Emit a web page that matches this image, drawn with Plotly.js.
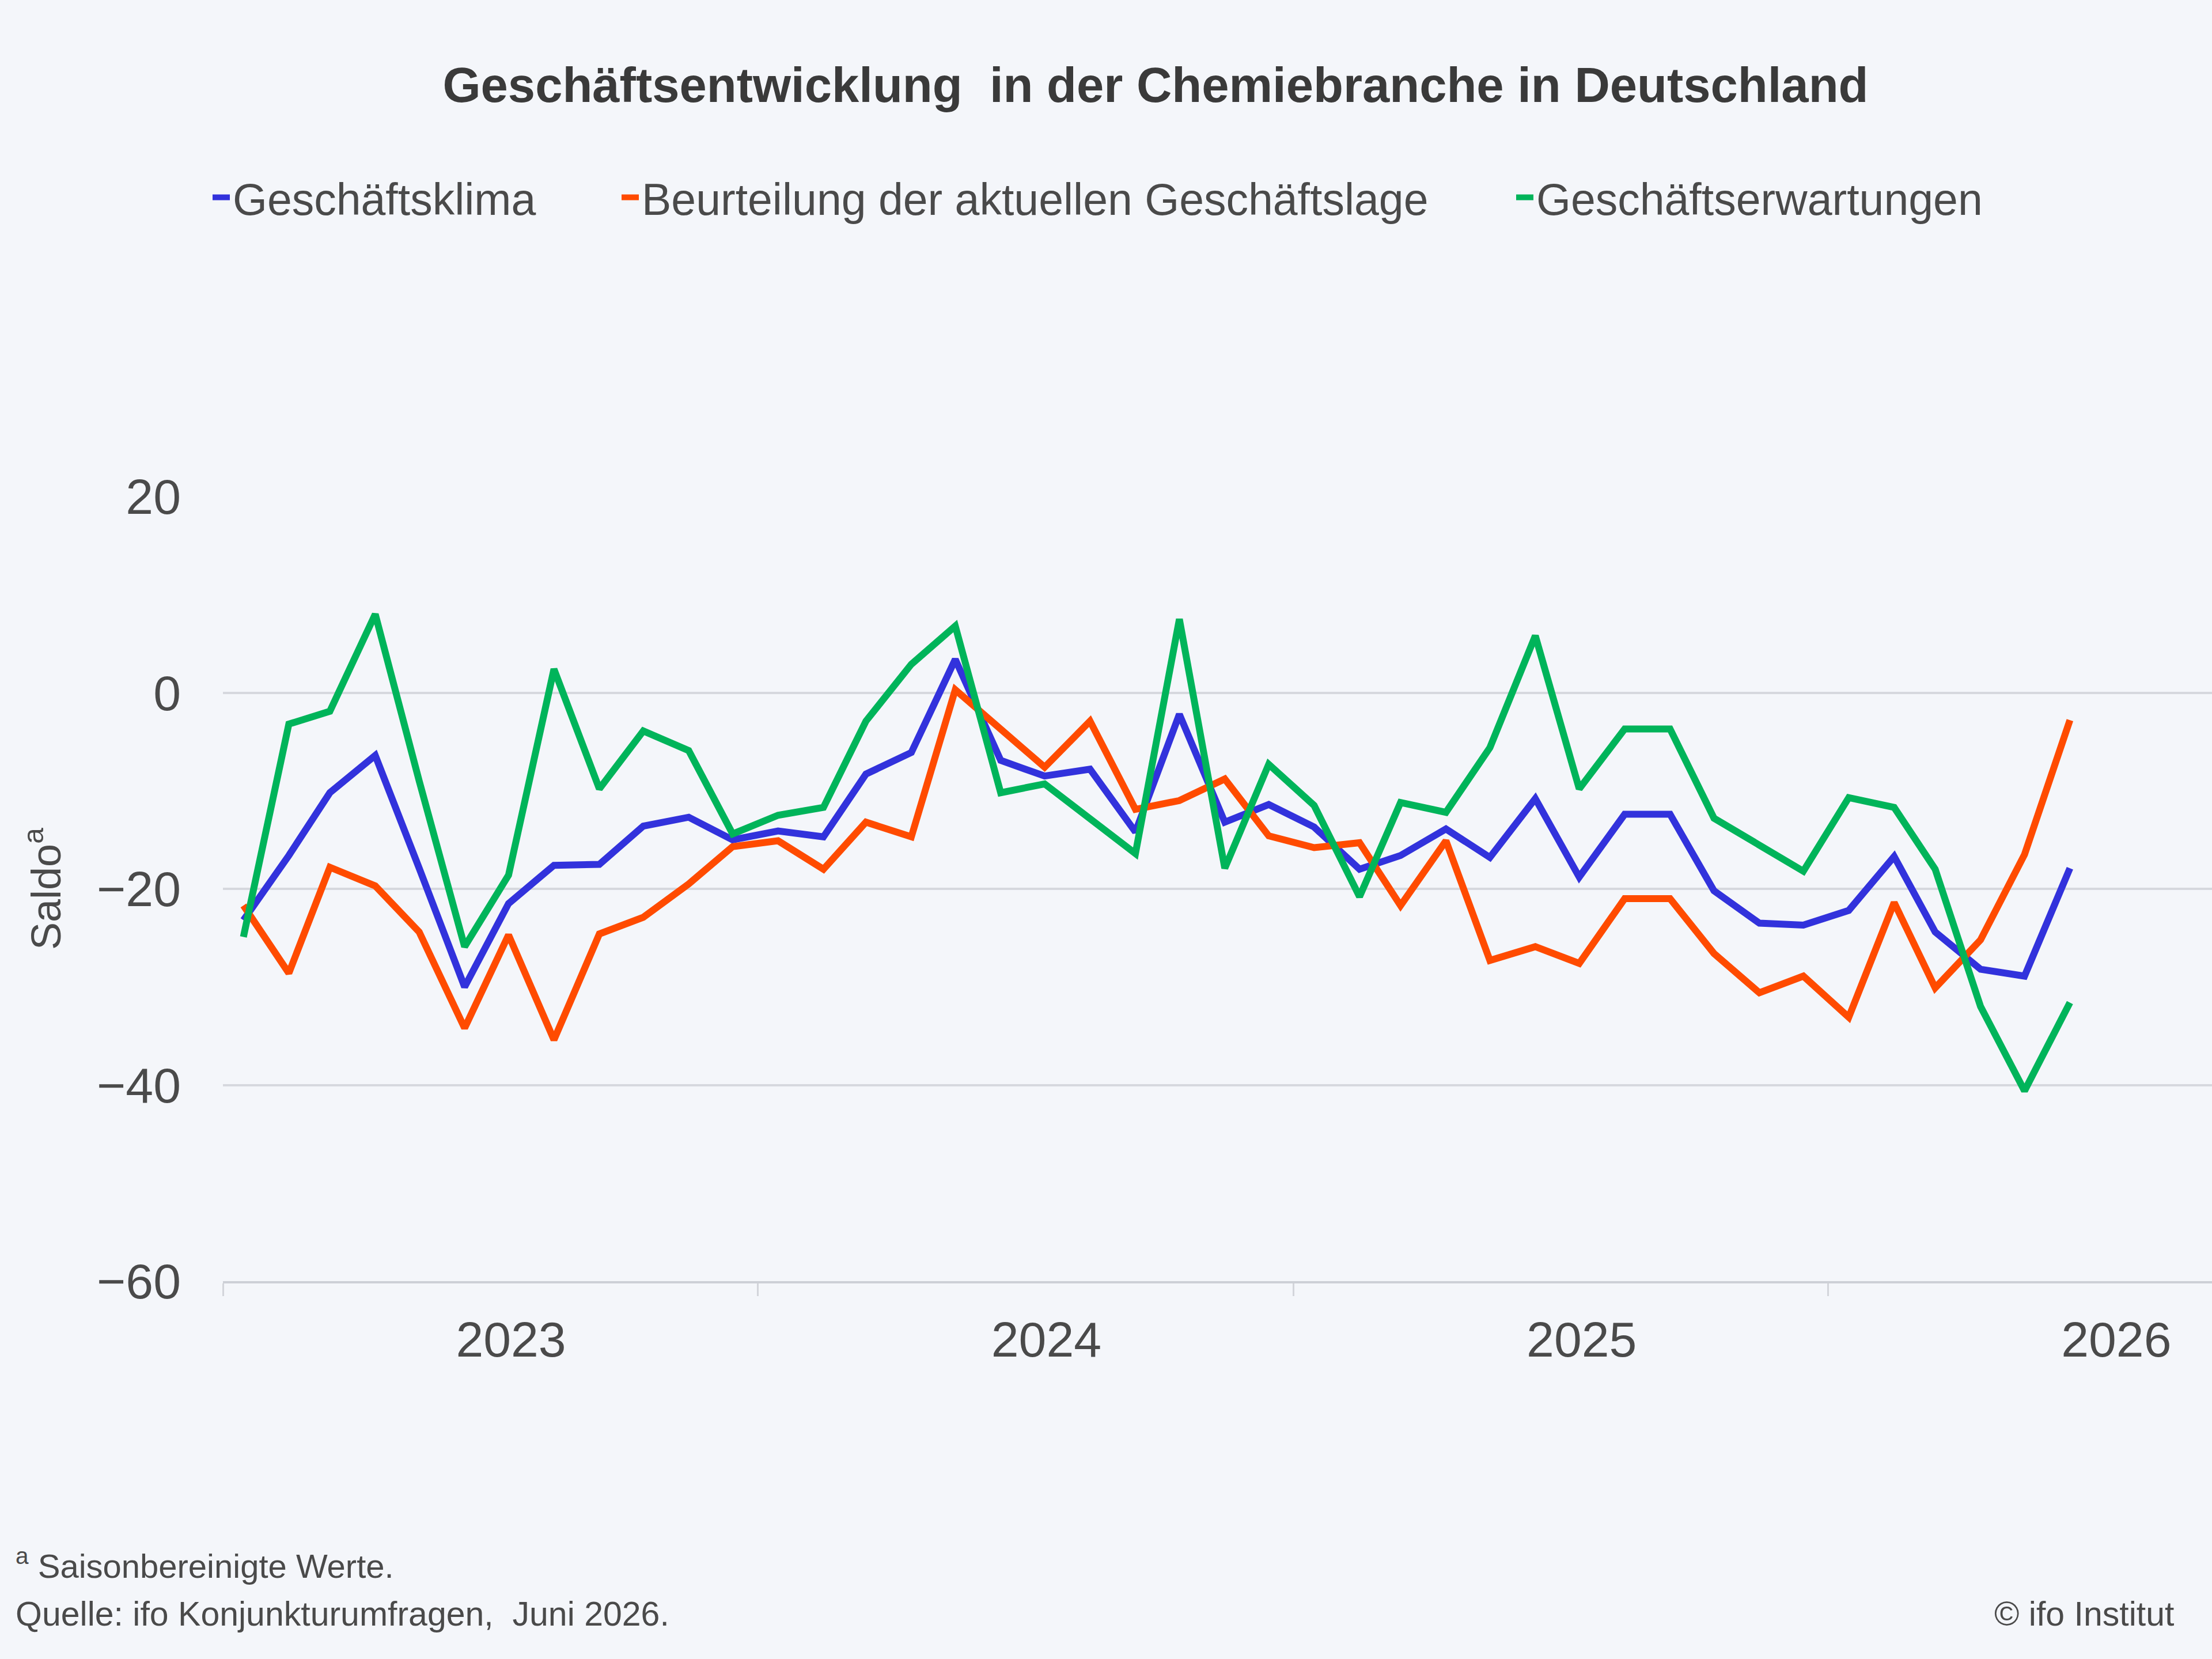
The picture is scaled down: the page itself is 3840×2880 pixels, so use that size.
<!DOCTYPE html>
<html>
<head>
<meta charset="utf-8">
<script src="https://cdn.plot.ly/plotly-3.0.1.min.js"></script>
<style>html,body{margin:0;padding:0;background:#f4f6fa;}</style>
</head>
<body>
<div id="chart" style="width:3840px;height:2880px;"></div>
<script>
// Months (data points are plotted mid-month)
const months = ['2023-01','2023-02','2023-03','2023-04','2023-05','2023-06','2023-07','2023-08','2023-09','2023-10','2023-11','2023-12',
                '2024-01','2024-02','2024-03','2024-04','2024-05','2024-06','2024-07','2024-08','2024-09','2024-10','2024-11','2024-12',
                '2025-01','2025-02','2025-03','2025-04','2025-05','2025-06','2025-07','2025-08','2025-09','2025-10','2025-11','2025-12',
                '2026-01','2026-02','2026-03','2026-04','2026-05','2026-06'];

// Geschäftsklima
const klima = [-23.2, -16.6, -10.2, -6.4, -17.9, -30.0, -21.5, -17.6, -17.5, -13.6, -12.7, -15.0,
               -14.1, -14.7, -8.3, -6.1, 3.4, -6.9, -8.5, -7.8, -14.2, -2.2, -13.2, -11.4,
               -13.7, -18.0, -16.6, -13.9, -16.8, -10.8, -18.8, -12.4, -12.4, -20.2, -23.5, -23.7,
               -22.2, -16.7, -24.4, -28.2, -28.9, -17.9];

// Beurteilung der aktuellen Geschäftslage
const lage = [-21.7, -28.6, -17.8, -19.7, -24.4, -34.2, -24.7, -35.4, -24.6, -22.9, -19.5, -15.7,
              -15.1, -18.0, -13.2, -14.7, 0.3, -3.6, -7.6, -2.9, -11.9, -11.0, -8.8, -14.6,
              -15.8, -15.3, -21.7, -15.1, -27.3, -25.9, -27.6, -21.0, -21.0, -26.6, -30.6, -28.9,
              -33.1, -21.4, -30.1, -25.2, -16.5, -2.8];

// Geschäftserwartungen
const erwartungen = [-24.9, -3.2, -1.9, 8.0, -9.0, -25.9, -18.6, 2.4, -9.8, -3.9, -5.9, -14.4,
                     -12.5, -11.7, -2.9, 2.9, 6.8, -10.2, -9.3, -12.9, -16.4, 7.5, -17.9, -7.3,
                     -11.5, -20.8, -11.2, -12.2, -5.6, 5.8, -9.8, -3.7, -3.7, -12.8, -15.6, -18.2,
                     -10.7, -11.7, -18.0, -32.0, -40.6, -31.6];

const seriesNames = ['Geschäftsklima', 'Beurteilung der aktuellen Geschäftslage', 'Geschäftserwartungen'];
const yTickVals = [20, 0, -20, -40, -60];

const W = 3840, H = 2880;
const plotL = 387, plotR = 3840, plotT = 862, plotB = 2224;
const px2paperX = x => (x - plotL) / (plotR - plotL);
const px2paperY = y => (plotB - y) / (plotB - plotT);

const xDates = months.map(m => m + '-15');
const FONT = 'Liberation Sans, Arial, sans-serif';
const colors = ['#3232dc', '#ff4b00', '#00b45a'];
const allSeries = [klima, lage, erwartungen];
const legendIds = ['legend', 'legend2', 'legend3'];

const traces = allSeries.map((ys, i) => ({
  type: 'scatter',
  mode: 'lines',
  x: xDates,
  y: ys,
  name: seriesNames[i],
  legend: legendIds[i],
  line: {color: colors[i], width: 12},
  hoverinfo: 'skip'
}));

const legendStarts = [364, 1074, 2627];
const legendCommon = {
  orientation: 'h',
  xref: 'container', yref: 'container',
  y: 1 - 343 / H, yanchor: 'middle', xanchor: 'left',
  font: {family: FONT, size: 77, color: '#4a4a4a'},
  bgcolor: 'rgba(0,0,0,0)', borderwidth: 0
};

const layout = {
  width: W, height: H, autosize: false,
  paper_bgcolor: '#f4f6fa',
  plot_bgcolor: '#f4f6fa',
  margin: {l: plotL, r: W - plotR, t: plotT, b: H - plotB, pad: 0},
  font: {family: FONT, color: '#4a4a4a'},
  title: {
    text: '<b>Geschäftsentwicklung  in der Chemiebranche in Deutschland</b>',
    xref: 'container', yref: 'container',
    x: 2006 / W, xanchor: 'center',
    y: 1 - 147 / H, yanchor: 'middle',
    font: {family: FONT, size: 85, color: '#3a3a3a'}
  },
  legend: Object.assign({}, legendCommon, {x: legendStarts[0] / W}),
  legend2: Object.assign({}, legendCommon, {x: legendStarts[1] / W}),
  legend3: Object.assign({}, legendCommon, {x: legendStarts[2] / W}),
  xaxis: {
    type: 'date',
    range: ['2023-01-01', '2026-09-20'],
    tick0: '2023-01-01', dtick: 'M12',
    tickformat: '%Y',
    ticklabelmode: 'period',
    ticklabelshift: 36,
    ticks: 'outside', ticklen: 22, tickwidth: 3, tickcolor: '#d3d5db',
    showline: true, linecolor: '#cdd0d6', linewidth: 4,
    showgrid: false, zeroline: false,
    tickfont: {family: FONT, size: 86, color: '#4a4a4a'},
    ticklabelstandoff: 2,
    fixedrange: true
  },
  yaxis: {
    range: [-60, 20],
    tickmode: 'array', tickvals: yTickVals,
    showgrid: true, gridcolor: '#d6d8de', gridwidth: 4,
    zeroline: false, showline: false, ticks: '',
    tickfont: {family: FONT, size: 86, color: '#4a4a4a'},
    ticklabelstandoff: 72,
    title: {text: 'Saldo<sup>a</sup>', font: {family: FONT, size: 72, color: '#4a4a4a'}, standoff: 38},
    automargin: false,
    fixedrange: true
  },
  showlegend: true,
  annotations: [
    {text: '<sup>a</sup> Saisonbereinigte Werte.', xref: 'paper', yref: 'paper',
     x: px2paperX(25), y: px2paperY(2714), xanchor: 'left', yanchor: 'middle', showarrow: false,
     font: {family: FONT, size: 58, color: '#4a4a4a'}},
    {text: 'Quelle: ifo Konjunkturumfragen,  Juni 2026.', xref: 'paper', yref: 'paper',
     x: px2paperX(25), y: px2paperY(2802), xanchor: 'left', yanchor: 'middle', showarrow: false,
     font: {family: FONT, size: 59, color: '#4a4a4a'}},
    {text: '© ifo Institut', xref: 'paper', yref: 'paper',
     x: px2paperX(3776), y: px2paperY(2802), xanchor: 'right', yanchor: 'middle', showarrow: false,
     font: {family: FONT, size: 59, color: '#4a4a4a'}}
  ]
};

Plotly.newPlot('chart', traces, layout, {displayModeBar: false, staticPlot: true});
</script>
</body>
</html>
